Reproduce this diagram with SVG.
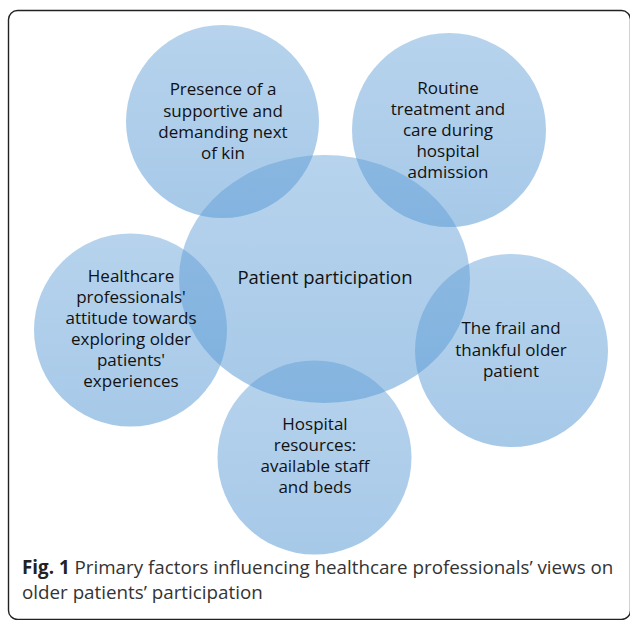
<svg xmlns="http://www.w3.org/2000/svg" width="630" height="620" viewBox="0 0 630 620">
<defs>
<linearGradient id="g" x1="0" y1="0" x2="0" y2="1">
<stop offset="0" stop-color="#5B9BD5" stop-opacity="0.44"/>
<stop offset="1" stop-color="#5B9BD5" stop-opacity="0.54"/>
</linearGradient>
</defs>
<style>
.c{fill:url(#g);stroke:none}
.t{font-family:"Open Sans","Noto Sans",sans-serif;font-size:17px;fill:#111;text-anchor:middle}
.tm{font-family:"Open Sans","Noto Sans",sans-serif;font-size:18.5px;fill:#111;text-anchor:middle}
.cap{font-family:"Open Sans","Noto Sans",sans-serif;font-size:18.8px;fill:#333}
.b{font-weight:bold;fill:#222}
</style>
<rect x="8.5" y="10.5" width="622" height="609" rx="9" fill="#fff" stroke="#222" stroke-width="1.4"/>
<g id="connectors"/>
<g id="n-center">
<ellipse class="c" cx="324.5" cy="279" rx="145.5" ry="124"/>
<text class="tm" x="325" y="284">Patient participation</text>
</g>
<g id="n-kin">
<circle class="c" cx="222.5" cy="121.5" r="96.5"/>
<text class="t" x="223" y="95">Presence of a</text>
<text class="t" x="223" y="116.5">supportive and</text>
<text class="t" x="223" y="137.5">demanding next</text>
<text class="t" x="223" y="158.5">of kin</text>
</g>
<g id="n-routine">
<circle class="c" cx="449" cy="130" r="97"/>
<text class="t" x="448" y="94">Routine</text>
<text class="t" x="448" y="115">treatment and</text>
<text class="t" x="448" y="136">care during</text>
<text class="t" x="448" y="157">hospital</text>
<text class="t" x="448" y="178">admission</text>
</g>
<g id="n-attitude">
<circle class="c" cx="130.5" cy="330" r="96.5"/>
<text class="t" x="131" y="282">Healthcare</text>
<text class="t" x="131" y="303">professionals'</text>
<text class="t" x="131" y="324">attitude towards</text>
<text class="t" x="131" y="345">exploring older</text>
<text class="t" x="131" y="366">patients'</text>
<text class="t" x="131" y="387">experiences</text>
</g>
<g id="n-frail">
<circle class="c" cx="511.5" cy="350.5" r="96.5"/>
<text class="t" x="511" y="334">The frail and</text>
<text class="t" x="511" y="355.5">thankful older</text>
<text class="t" x="511" y="377">patient</text>
</g>
<g id="n-resources">
<circle class="c" cx="314.5" cy="457.5" r="97"/>
<text class="t" x="315" y="430">Hospital</text>
<text class="t" x="315" y="451">resources:</text>
<text class="t" x="315" y="472">available staff</text>
<text class="t" x="315" y="493">and beds</text>
</g>
<text class="cap" x="22" y="574"><tspan class="b">Fig. 1</tspan> Primary factors influencing healthcare professionals’ views on</text>
<text class="cap" x="22" y="599">older patients’ participation</text>
</svg>
